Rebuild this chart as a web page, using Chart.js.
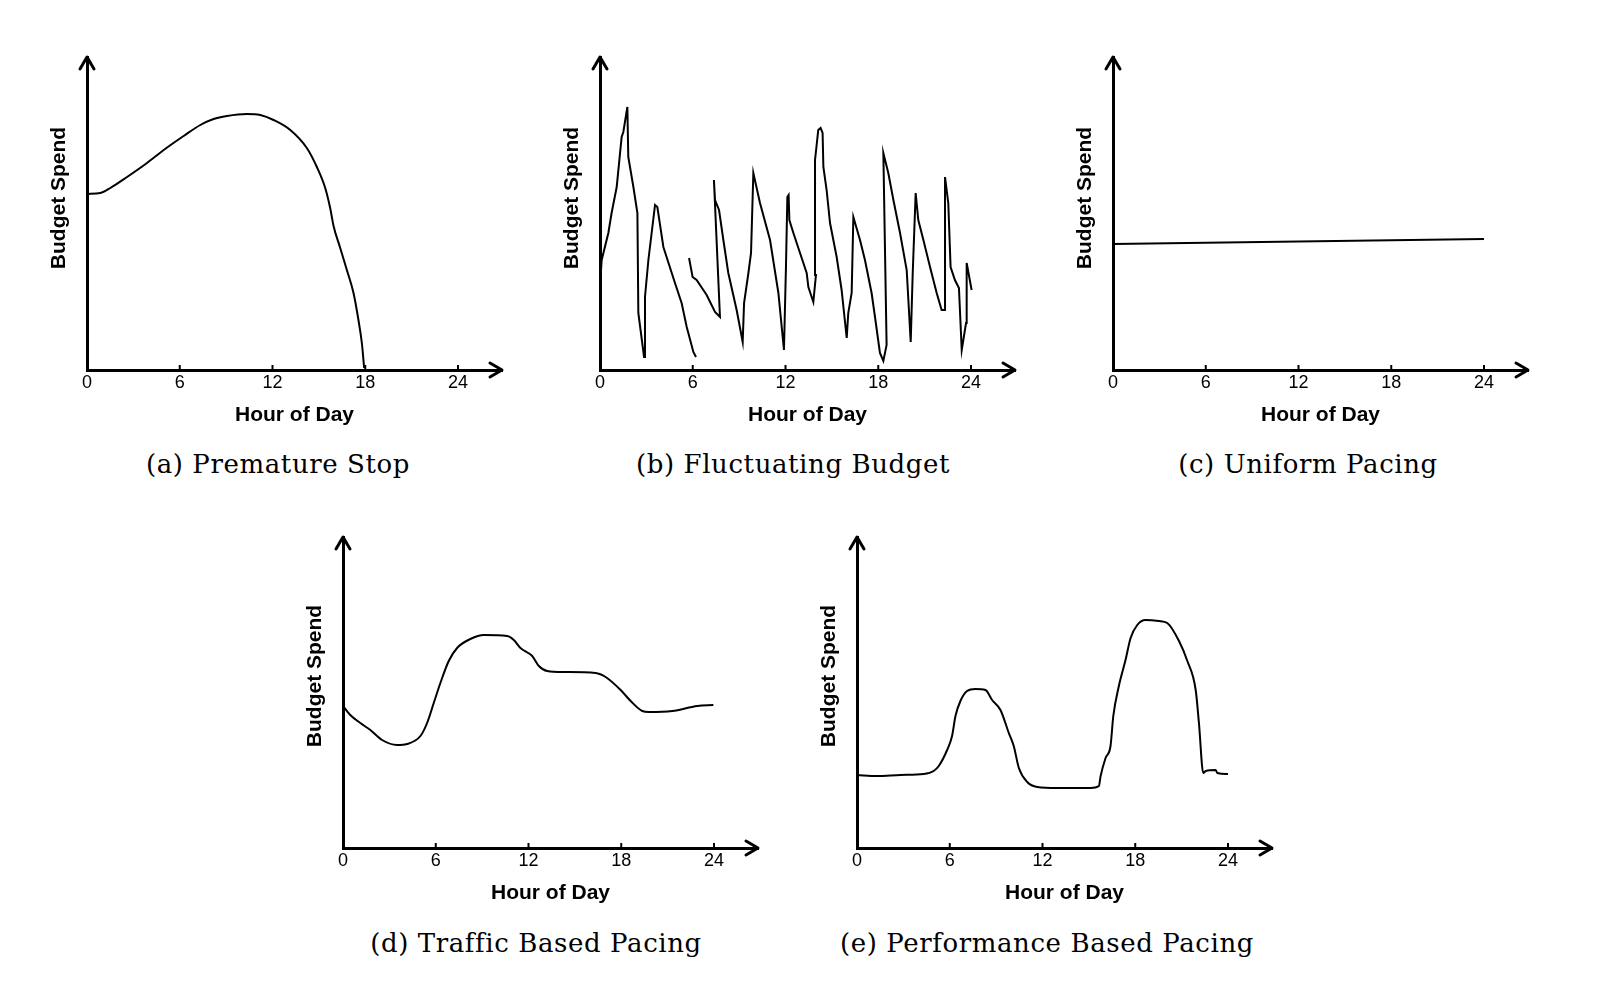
<!DOCTYPE html>
<html>
<head>
<meta charset="utf-8">
<script src="https://cdn.jsdelivr.net/npm/chart.js@4.4.1/dist/chart.umd.min.js"></script>
<style>
  body { margin: 0; background: #fff; width: 1608px; height: 994px; position: relative; overflow: hidden; }
  canvas { position: absolute; }
  .cap { position: absolute; font-family: "DejaVu Serif", serif; font-size: 26px; letter-spacing: 0.6px;
         white-space: nowrap; color: #000; transform: translate(-50%, -50%); }
</style>
</head>
<body>
<script>
// ---- data (hour of day, budget spend in arbitrary units) ----
const hourTicks = [0, 6, 12, 18, 24];

const prematureHours = [0, 0.86, 1.51, 2.59, 3.88, 4.96, 6.25, 7.33, 8.19, 9.05, 10.34, 11.21, 12.07,
  13.15, 14.22, 14.87, 15.41, 15.73, 15.95, 16.38, 16.81, 17.24, 17.56, 17.78, 17.93];
const prematureSpend = [17.6, 17.7, 18.2, 19.3, 20.7, 22.0, 23.4, 24.5, 25.1, 25.4, 25.6, 25.5, 25.0,
  24.0, 22.2, 20.3, 18.2, 16.2, 14.4, 12.2, 10.0, 7.7, 5.0, 2.7, 0.2];

// null marks the pen lift around 6h
const fluctHours = [0, 0.11, 0.54, 0.75, 1.08, 1.40, 1.51, 1.77, 1.83, 2.16, 2.42, 2.48, 2.85, 2.91, 3.13,
  3.56, 3.71, 4.10, 4.85, 5.28, 5.61, 6.04, 6.21, 6.0,
  5.76, 5.99, 6.25, 6.90, 7.44, 7.76, 7.37, 7.44, 7.70, 7.98, 8.30, 8.84, 9.23, 9.32, 9.60, 9.77, 9.92,
  10.35, 11.0, 11.54, 11.90, 12.03, 12.12, 12.20, 12.25, 12.51, 12.94, 13.37, 13.48, 13.80, 13.97, 13.91,
  14.12, 14.27, 14.40, 14.45, 14.66, 14.88, 15.31, 15.63, 15.96, 16.06, 16.28, 16.39, 16.82, 17.14, 17.57,
  17.79, 18.11, 18.33, 18.54, 18.33, 18.65, 18.98, 19.41, 19.84, 20.10, 20.23, 20.42, 20.59, 20.92, 21.35,
  21.78, 22.10, 22.32, 22.32, 22.53, 22.68, 22.96, 23.22, 23.40, 23.68, 23.72, 24.04];
const fluctSpend = [8.5, 11.0, 13.7, 15.7, 18.3, 23.3, 23.8, 26.3, 21.3, 18.3, 15.7, 5.7, 1.3, 7.3, 11.0,
  16.5, 16.3, 12.3, 8.7, 6.7, 4.3, 1.8, 1.3, null,
  11.2, 9.3, 9.0, 7.5, 5.8, 5.3, 19.0, 17.0, 16.0, 13.0, 9.7, 6.0, 2.8, 6.7, 9.7, 11.7, 19.7,
  16.7, 13.0, 7.7, 2.0, 10.3, 17.3, 17.5, 15.0, 13.7, 11.7, 9.7, 8.3, 6.8, 9.5, 21.0,
  24.0, 24.2, 23.7, 20.3, 18.0, 14.7, 11.3, 8.0, 3.2, 5.7, 7.7, 15.3, 13.0, 11.0, 7.7,
  5.3, 1.7, 0.9, 2.5, 21.7, 19.7, 17.0, 13.7, 10.0, 2.8, 9.7, 17.7, 15.0, 13.0, 10.3,
  7.7, 6.0, 6.0, 19.3, 16.7, 10.3, 9.0, 8.2, 2.0, 4.7, 10.7, 8.0];

const uniformHours = [0, 24];
const uniformSpend = [12.6, 13.1];

const trafficHours = [0, 0.47, 1.12, 1.77, 2.53, 3.50, 4.14, 5.01, 5.44, 5.87, 6.30, 6.84, 7.38, 8.24,
  9.11, 10.62, 11.05, 11.48, 12.24, 12.67, 13.21, 14.29, 16.34, 16.99, 17.96, 18.61, 19.36, 19.79,
  21.30, 22.92, 23.96];
const trafficSpend = [14.2, 13.3, 12.5, 11.8, 10.8, 10.3, 10.4, 11.2, 12.5, 14.5, 16.5, 18.7, 20.0, 20.9,
  21.3, 21.2, 20.8, 20.0, 19.2, 18.2, 17.7, 17.6, 17.5, 17.1, 15.8, 14.7, 13.7, 13.6,
  13.7, 14.2, 14.3];

const perfHours = [0, 1.29, 2.81, 4.32, 4.96, 5.29, 5.83, 6.15, 6.37, 6.69, 7.12, 7.66, 8.31, 8.74, 9.28,
  9.82, 10.14, 10.47, 11.01, 11.66, 12.95, 15.11, 15.65, 15.76, 16.08, 16.40, 16.58, 16.94, 17.37,
  17.70, 18.13, 18.67, 19.53, 20.07, 20.83, 21.37, 21.91, 22.12, 22.40, 22.56, 23.20, 23.31, 24.0];
const perfSpend = [7.3, 7.2, 7.3, 7.4, 7.7, 8.2, 9.8, 11.2, 13.2, 14.7, 15.7, 15.9, 15.8, 14.8, 13.8,
  11.5, 10.2, 8.0, 6.6, 6.1, 6.0, 6.0, 6.2, 7.2, 9.0, 10.2, 13.2, 16.2, 18.8,
  21.0, 22.3, 22.8, 22.7, 22.5, 20.7, 18.7, 15.8, 12.5, 7.5, 7.7, 7.8, 7.5, 7.4];

const captions = ['(a)  Premature Stop', '(b)  Fluctuating Budget', '(c)  Uniform Pacing',
  '(d)  Traffic Based Pacing', '(e)  Performance Based Pacing'];

// ---- layout ----
const PAD_L = 60, PAD_T = 12, PAD_R = 12, X_SCALE_H = 65, PLOT_W = 415;
const X_MAX = 24 * PLOT_W / 371;

const panels = [
  { hours: prematureHours, spend: prematureSpend, axisX: 87, axisY: 370, plotH: 313, smooth: true, capX: 278, capY: 464 },
  { hours: fluctHours, spend: fluctSpend, axisX: 600, axisY: 370, plotH: 313, smooth: false, capX: 793, capY: 464 },
  { hours: uniformHours, spend: uniformSpend, axisX: 1113, axisY: 370, plotH: 313, smooth: false, capX: 1308, capY: 464 },
  { hours: trafficHours, spend: trafficSpend, axisX: 343, axisY: 848, plotH: 311, smooth: true, capX: 536, capY: 943 },
  { hours: perfHours, spend: perfSpend, axisX: 857, axisY: 848, plotH: 311, smooth: true, capX: 1047, capY: 943 }
];

// arrows, small inner tick marks and the y title
const axisDecor = {
  id: 'axisDecor',
  afterDraw(chart) {
    const { ctx, chartArea: { left, right, top, bottom }, scales: { x } } = chart;
    ctx.save();
    ctx.strokeStyle = '#000';
    ctx.lineWidth = 3;
    ctx.lineCap = 'round';
    ctx.lineJoin = 'round';
    ctx.beginPath();
    ctx.moveTo(left - 7, top + 12); ctx.lineTo(left, top); ctx.lineTo(left + 7, top + 12);
    ctx.moveTo(right - 12, bottom - 7); ctx.lineTo(right, bottom); ctx.lineTo(right - 12, bottom + 7);
    ctx.stroke();
    ctx.lineWidth = 2;
    ctx.lineCap = 'butt';
    hourTicks.slice(1).forEach(h => {
      const px = x.getPixelForValue(h);
      ctx.beginPath(); ctx.moveTo(px, bottom); ctx.lineTo(px, bottom - 5); ctx.stroke();
    });
    ctx.translate(left - 27.5, bottom - 172);
    ctx.rotate(-Math.PI / 2);
    ctx.font = 'bold 21px "Liberation Sans", Arial, sans-serif';
    ctx.fillStyle = '#000';
    ctx.textAlign = 'center';
    ctx.textBaseline = 'middle';
    ctx.fillText('Budget Spend', 0, 0);
    ctx.restore();
  }
};

panels.forEach((p, i) => {
  const cv = document.createElement('canvas');
  const w = PAD_L + PLOT_W + PAD_R, h = PAD_T + p.plotH + X_SCALE_H;
  cv.width = w; cv.height = h;
  cv.style.width = w + 'px'; cv.style.height = h + 'px';
  cv.style.left = (p.axisX - PAD_L) + 'px';
  cv.style.top = (p.axisY - p.plotH - PAD_T) + 'px';
  document.body.appendChild(cv);

  new Chart(cv.getContext('2d'), {
    type: 'line',
    data: {
      datasets: [{
        data: p.hours.map((hr, k) => ({ x: hr, y: p.spend[k] })),
        borderColor: '#000',
        borderWidth: 2,
        pointRadius: 0,
        cubicInterpolationMode: p.smooth ? 'monotone' : 'default',
        tension: 0,
        fill: false,
        spanGaps: false
      }]
    },
    options: {
      responsive: false,
      animation: false,
      devicePixelRatio: 1,
      layout: { padding: { left: 0, top: PAD_T, right: PAD_R, bottom: 0 } },
      plugins: { legend: { display: false }, tooltip: { enabled: false } },
      scales: {
        x: {
          type: 'linear', min: 0, max: X_MAX,
          afterBuildTicks: s => { s.ticks = hourTicks.map(v => ({ value: v })); },
          afterFit: s => { s.height = X_SCALE_H; },
          grid: { display: false, drawTicks: false },
          border: { display: true, color: '#000', width: 3 },
          ticks: { color: '#000', padding: 2, maxRotation: 0, autoSkip: false,
                   font: { family: '"Liberation Sans", Arial, sans-serif', size: 18 } },
          title: { display: true, text: 'Hour of Day', color: '#000', padding: { top: 0, bottom: 7 },
                   font: { family: '"Liberation Sans", Arial, sans-serif', size: 21, weight: 'bold' } }
        },
        y: {
          min: 0, max: p.plotH / 10,
          afterFit: s => { s.width = PAD_L; },
          grid: { display: false, drawTicks: false },
          border: { display: true, color: '#000', width: 3 },
          ticks: { display: false }
        }
      }
    },
    plugins: [axisDecor]
  });

  const cap = document.createElement('div');
  cap.className = 'cap';
  cap.textContent = captions[i];
  cap.style.left = p.capX + 'px';
  cap.style.top = p.capY + 'px';
  document.body.appendChild(cap);
});
</script>
</body>
</html>
